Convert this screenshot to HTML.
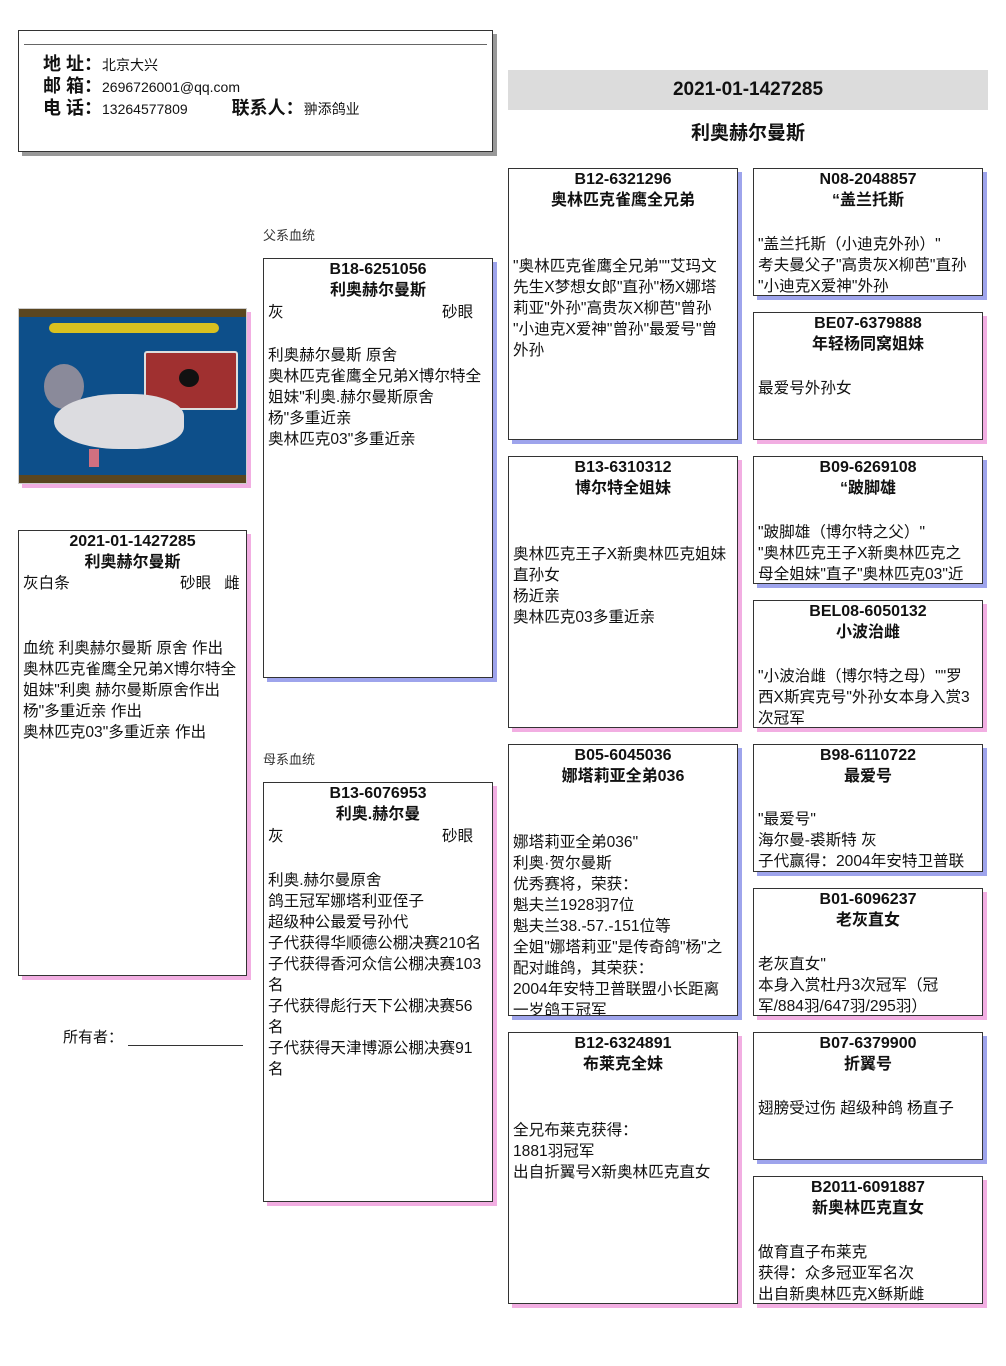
<!DOCTYPE html>
<html><head><meta charset="utf-8"><style>
body{margin:0;width:1006px;height:1366px;background:#fff;position:relative;font-family:"Liberation Sans","Noto Sans CJK SC",sans-serif;color:#111;overflow:hidden}
.a{position:absolute}
.bx{position:absolute;border:1px solid #333;background:#fff;overflow:hidden;box-sizing:border-box}
.m{box-shadow:4px 4px 0 #9ea4ec}
.f{box-shadow:4px 4px 0 #f2aee2}
.t{position:absolute;left:0;right:0;top:0;text-align:center;font-weight:bold;font-size:16px;line-height:21px}
.b{position:absolute;left:4px;right:0;font-size:15.6px;line-height:21px;white-space:nowrap}
.lbl{position:absolute;font-size:13px;color:#333}
</style></head><body>

<div class="bx" style="left:18px;top:30px;width:475px;height:122px;box-shadow:4px 4px 0 #999">
  <div class="a" style="left:5px;right:5px;top:13px;border-top:1px solid #666"></div>
  <div class="a" style="left:24px;top:23px;font-size:14px;line-height:21px;white-space:nowrap">
    <b style="font-size:18px">地 址：</b>北京大兴<br>
    <b style="font-size:18px">邮 箱：</b>2696726001@qq.com<br>
    <b style="font-size:18px">电 话：</b>13264577809<span style="display:inline-block;width:44px"></span><b style="font-size:18px">联系人：</b>翀添鸽业
  </div>
</div>

<div class="a" style="left:508px;top:70px;width:480px;height:40px;background:#dcdcdc;text-align:center;font-weight:bold;font-size:19px;line-height:40px">2021-01-1427285</div>
<div class="a" style="left:508px;top:121px;width:480px;text-align:center;font-weight:bold;font-size:19px;line-height:26px">利奥赫尔曼斯</div>

<div class="a" style="left:18px;top:308px;width:229px;height:176px;background:#0d4f8a;border:1px solid #ccc;box-sizing:border-box;box-shadow:4px 4px 0 #f2aee2;overflow:hidden">
  <div class="a" style="left:0;right:0;top:0;height:8px;background:#5a4620"></div>
  <div class="a" style="left:0;right:0;bottom:0;height:8px;background:#5a4620"></div>
  <div class="a" style="left:30px;top:14px;width:170px;height:10px;background:#d8c020;border-radius:5px"></div>
  <div class="a" style="left:125px;top:42px;width:90px;height:55px;background:#a03030;border:2px solid #ddd;border-radius:3px"></div>
  <div class="a" style="left:160px;top:60px;width:20px;height:18px;background:#111;border-radius:50%"></div>
  <div class="a" style="left:25px;top:55px;width:40px;height:45px;background:#8a8a9a;border-radius:50%"></div>
  <div class="a" style="left:35px;top:85px;width:130px;height:55px;background:#dcdce0;border-radius:50% 40% 40% 50%"></div>
  <div class="a" style="left:70px;top:140px;width:10px;height:18px;background:#d07080"></div>
</div>

<div class="bx f" style="left:18px;top:530px;width:229px;height:446px">
  <div class="t">2021-01-1427285<br>利奥赫尔曼斯</div>
  <div class="b" style="top:42px">灰白条<span class="a" style="left:157px">砂眼&nbsp;&nbsp;&nbsp;雌</span></div>
  <div class="b" style="top:107px">血统 利奥赫尔曼斯 原舍 作出<br>奥林匹克雀鹰全兄弟X博尔特全<br>姐妹"利奥 赫尔曼斯原舍作出<br>杨"多重近亲 作出<br>奥林匹克03"多重近亲 作出</div>
</div>

<div class="a" style="left:63px;top:1028px;font-size:15px;line-height:20px">所有者：</div>
<div class="a" style="left:128px;top:1045px;width:115px;border-top:1px solid #333"></div>

<div class="lbl" style="left:263px;top:225px">父系血统</div>
<div class="bx m" style="left:263px;top:258px;width:230px;height:420px">
  <div class="t">B18-6251056<br>利奥赫尔曼斯</div>
  <div class="b" style="top:43px">灰<span class="a" style="left:174px">砂眼</span></div>
  <div class="b" style="top:86px">利奥赫尔曼斯 原舍<br>奥林匹克雀鹰全兄弟X博尔特全<br>姐妹"利奥.赫尔曼斯原舍<br>杨"多重近亲<br>奥林匹克03"多重近亲</div>
</div>

<div class="lbl" style="left:263px;top:749px">母系血统</div>
<div class="bx f" style="left:263px;top:782px;width:230px;height:420px">
  <div class="t">B13-6076953<br>利奥.赫尔曼</div>
  <div class="b" style="top:43px">灰<span class="a" style="left:174px">砂眼</span></div>
  <div class="b" style="top:87px">利奥.赫尔曼原舍<br>鸽王冠军娜塔利亚侄子<br>超级种公最爱号孙代<br>子代获得华顺德公棚决赛210名<br>子代获得香河众信公棚决赛103<br>名<br>子代获得彪行天下公棚决赛56<br>名<br>子代获得天津博源公棚决赛91<br>名</div>
</div>

<!-- column 3 -->
<div class="bx m" style="left:508px;top:168px;width:230px;height:272px">
  <div class="t">B12-6321296<br>奥林匹克雀鹰全兄弟</div>
  <div class="b" style="top:87px">"奥林匹克雀鹰全兄弟""艾玛文<br>先生X梦想女郎"直孙"杨X娜塔<br>莉亚"外孙"高贵灰X柳芭"曾孙<br>"小迪克X爱神"曾孙"最爱号"曾<br>外孙</div>
</div>
<div class="bx f" style="left:508px;top:456px;width:230px;height:272px">
  <div class="t">B13-6310312<br>博尔特全姐妹</div>
  <div class="b" style="top:87px">奥林匹克王子X新奥林匹克姐妹<br>直孙女<br>杨近亲<br>奥林匹克03多重近亲</div>
</div>
<div class="bx m" style="left:508px;top:744px;width:230px;height:272px">
  <div class="t">B05-6045036<br>娜塔莉亚全弟036</div>
  <div class="b" style="top:87px">娜塔莉亚全弟036"<br>利奥·贺尔曼斯<br>优秀赛将，荣获：<br>魁夫兰1928羽7位<br>魁夫兰38.-57.-151位等<br>全姐"娜塔莉亚"是传奇鸽"杨"之<br>配对雌鸽，其荣获：<br>2004年安特卫普联盟小长距离<br>一岁鸽王冠军</div>
</div>
<div class="bx f" style="left:508px;top:1032px;width:230px;height:272px">
  <div class="t">B12-6324891<br>布莱克全妹</div>
  <div class="b" style="top:87px">全兄布莱克获得：<br>1881羽冠军<br>出自折翼号X新奥林匹克直女</div>
</div>

<!-- column 4 -->
<div class="bx m" style="left:753px;top:168px;width:230px;height:128px">
  <div class="t">N08-2048857<br>“盖兰托斯</div>
  <div class="b" style="top:65px">"盖兰托斯（小迪克外孙）"<br>考夫曼父子"高贵灰X柳芭"直孙<br>"小迪克X爱神"外孙</div>
</div>
<div class="bx f" style="left:753px;top:312px;width:230px;height:128px">
  <div class="t">BE07-6379888<br>年轻杨同窝姐妹</div>
  <div class="b" style="top:65px">最爱号外孙女</div>
</div>
<div class="bx m" style="left:753px;top:456px;width:230px;height:128px">
  <div class="t">B09-6269108<br>“跛脚雄</div>
  <div class="b" style="top:65px">"跛脚雄（博尔特之父）"<br>"奥林匹克王子X新奥林匹克之<br>母全姐妹"直子"奥林匹克03"近</div>
</div>
<div class="bx f" style="left:753px;top:600px;width:230px;height:128px">
  <div class="t">BEL08-6050132<br>小波治雌</div>
  <div class="b" style="top:65px">"小波治雌（博尔特之母）""罗<br>西X斯宾克号"外孙女本身入赏3<br>次冠军</div>
</div>
<div class="bx m" style="left:753px;top:744px;width:230px;height:128px">
  <div class="t">B98-6110722<br>最爱号</div>
  <div class="b" style="top:64px">"最爱号"<br>海尔曼-裘斯特 灰<br>子代赢得：2004年安特卫普联</div>
</div>
<div class="bx f" style="left:753px;top:888px;width:230px;height:128px">
  <div class="t">B01-6096237<br>老灰直女</div>
  <div class="b" style="top:65px">老灰直女"<br>本身入赏杜丹3次冠军（冠<br>军/884羽/647羽/295羽）</div>
</div>
<div class="bx m" style="left:753px;top:1032px;width:230px;height:128px">
  <div class="t">B07-6379900<br>折翼号</div>
  <div class="b" style="top:65px">翅膀受过伤 超级种鸽 杨直子</div>
</div>
<div class="bx f" style="left:753px;top:1176px;width:230px;height:128px">
  <div class="t">B2011-6091887<br>新奥林匹克直女</div>
  <div class="b" style="top:65px">做育直子布莱克<br>获得：众多冠亚军名次<br>出自新奥林匹克X稣斯雌</div>
</div>

</body></html>
